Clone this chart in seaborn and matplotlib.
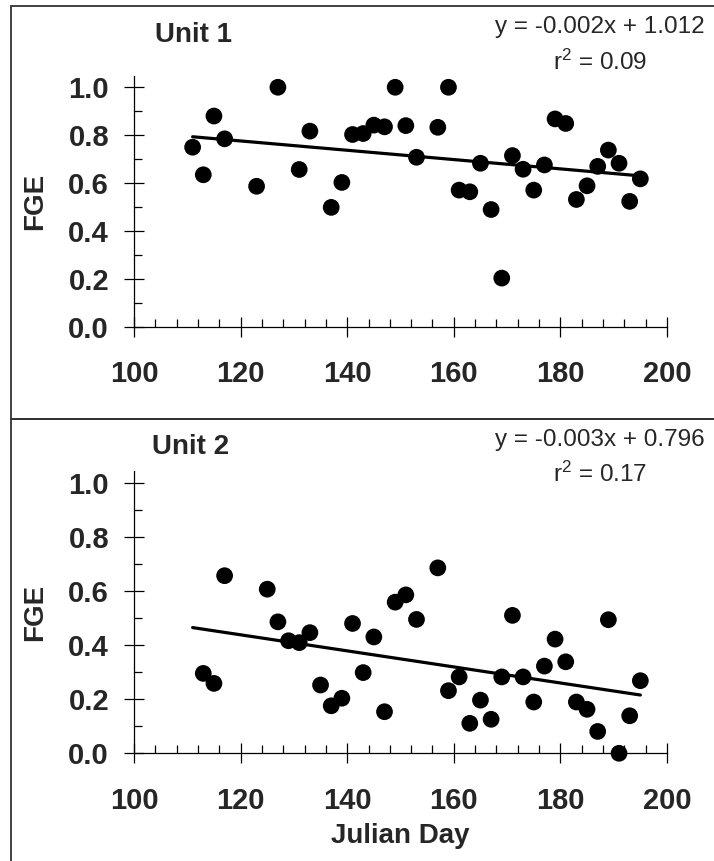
import numpy as np
import pandas as pd
import matplotlib
matplotlib.use("Agg")
import matplotlib.pyplot as plt
from matplotlib.ticker import MultipleLocator, FormatStrFormatter
from matplotlib.patches import Rectangle
import seaborn as sns

# Unit 1 data
days_u1 = [111, 113, 115, 117, 123, 127, 131, 133, 137, 139, 141, 143, 145, 147,
           149, 151, 153, 157, 159, 161, 163, 165, 167, 169, 171, 173, 175, 177,
           179, 181, 183, 185, 187, 189, 191, 193, 195]
fge_u1 = [0.75, 0.635, 0.88, 0.785, 0.587, 1.0, 0.657, 0.817, 0.499, 0.603, 0.803,
          0.807, 0.842, 0.835, 1.0, 0.84, 0.708, 0.833, 1.0, 0.571, 0.564, 0.683,
          0.49, 0.204, 0.715, 0.658, 0.571, 0.676, 0.868, 0.849, 0.532, 0.589,
          0.67, 0.738, 0.683, 0.524, 0.618]

# Unit 2 data
days_u2 = [113, 115, 117, 125, 127, 129, 131, 133, 135, 137, 139, 141, 143, 145,
           147, 149, 151, 153, 157, 159, 161, 163, 165, 167, 169, 171, 173, 175,
           177, 179, 181, 183, 185, 187, 189, 191, 193, 195]
fge_u2 = [0.296, 0.259, 0.658, 0.608, 0.487, 0.417, 0.41, 0.447, 0.253, 0.176,
          0.204, 0.481, 0.299, 0.431, 0.154, 0.56, 0.587, 0.496, 0.687, 0.232,
          0.283, 0.111, 0.197, 0.126, 0.283, 0.511, 0.283, 0.19, 0.323, 0.423,
          0.339, 0.19, 0.163, 0.081, 0.495, 0.0, 0.139, 0.269]

titles = ["Unit 1", "Unit 2"]
equations = ["y = -0.002x + 1.012", "y = -0.003x + 0.796"]
r2_labels = ["r$^2$ = 0.09", "r$^2$ = 0.17"]

sns.set_theme(style="white")
plt.rcParams['font.family'] = ['Liberation Sans', 'DejaVu Sans']
plt.rcParams['mathtext.fontset'] = 'custom'
plt.rcParams['mathtext.rm'] = 'Liberation Sans'
plt.rcParams['mathtext.default'] = 'rm'

W, H = 714, 861
fig = plt.figure(figsize=(W / 100, H / 100), dpi=100)

def px(x, y):
    return x / W, 1 - y / H

# panel boxes
for (y0, y1) in [(6, 419), (419, 870)]:
    fig.add_artist(Rectangle(px(11, y1), (W + 20 - 11) / W, (y1 - y0) / H,
                             transform=fig.transFigure, fill=False,
                             edgecolor='#333333', linewidth=1.3))

ax1 = fig.add_axes([134 / W, 1 - 327 / H, 533 / W, 251 / H])
ax2 = fig.add_axes([134 / W, 1 - 753.3 / H, 533 / W, 282.6 / H])

all_days = np.array(days_u1 + days_u2)
fit_x = np.array([all_days.min(), all_days.max()])

panels = [(ax1, days_u1, fge_u1), (ax2, days_u2, fge_u2)]
for ax, d, v in panels:
    df = pd.DataFrame({'Julian Day': d, 'FGE': v})
    sns.scatterplot(data=df, x='Julian Day', y='FGE', ax=ax, color='black',
                    s=145, edgecolor='none', clip_on=False, zorder=3)
    slope, icpt = np.polyfit(df['Julian Day'], df['FGE'], 1)
    ax.plot(fit_x, slope * fit_x + icpt, color='black', lw=2.3, zorder=2)

    ax.set_xlim(100, 200)
    ax.set_ylim(0, 1.047)
    ax.xaxis.set_major_locator(MultipleLocator(20))
    ax.xaxis.set_minor_locator(MultipleLocator(4))
    ax.yaxis.set_major_locator(MultipleLocator(0.2))
    ax.yaxis.set_minor_locator(MultipleLocator(0.1))
    ax.yaxis.set_major_formatter(FormatStrFormatter('%.1f'))
    ax.tick_params(which='major', direction='inout', length=14, width=0.9,
                   color='black', labelsize=21)
    ax.tick_params(axis='x', which='major', pad=17)
    ax.tick_params(axis='y', which='major', pad=11)
    ax.tick_params(which='minor', direction='in', length=6, width=0.9, color='black')
    ax.tick_params(axis='x', which='both', bottom=True)
    ax.tick_params(axis='y', which='both', left=True)
    for lab in ax.get_xticklabels() + ax.get_yticklabels():
        lab.set_fontweight('bold')
    for s in ['top', 'right']:
        ax.spines[s].set_visible(False)
    for s in ['left', 'bottom']:
        ax.spines[s].set_color('black')
        ax.spines[s].set_linewidth(0.9)
    ax.set_xlabel('')
    ax.set_ylabel('FGE', fontsize=20, fontweight='bold')
    ax.yaxis.set_label_coords((48 - 134) / 533, 0.5)

fig.text(*px(193.5, 35), titles[0], fontsize=20, fontweight='bold', ha='center', va='center')
fig.text(*px(191, 447), titles[1], fontsize=20, fontweight='bold', ha='center', va='center')
fig.text(*px(600, 27), equations[0], fontsize=17.5, ha='center', va='center')
fig.text(*px(600, 62), r2_labels[0], fontsize=17.5, ha='center', va='center')
fig.text(*px(600, 440), equations[1], fontsize=17.5, ha='center', va='center')
fig.text(*px(600, 474), r2_labels[1], fontsize=17.5, ha='center', va='center')
fig.text(*px(400, 836), 'Julian Day', fontsize=20, fontweight='bold', ha='center', va='center')

fig.savefig('out.png', dpi=100)
